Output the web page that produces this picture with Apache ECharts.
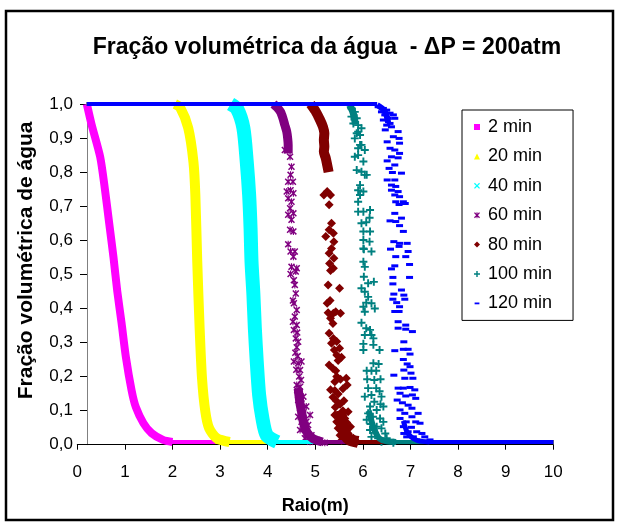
<!DOCTYPE html>
<html><head><meta charset="utf-8">
<script src="https://cdn.jsdelivr.net/npm/echarts@6/dist/echarts.min.js"></script>
<style>html,body{margin:0;padding:0;background:#fff}#c{width:621px;height:528px}</style>
</head><body><div id="c"></div>
<script>
const FONT = '"Liberation Sans", Arial, sans-serif';
const seriesNames = ['2 min','20 min','40 min','60 min','80 min','100 min','120 min'];
const seriesColors = ['#FF00FF','#FFFF00','#00FFFF','#800080','#800000','#008080','#0000FF'];
const xTickLabels = ['0','1','2','3','4','5','6','7','8','9','10'];
const yTickLabels = ['0,0','0,1','0,2','0,3','0,4','0,5','0,6','0,7','0,8','0,9','1,0'];

// plateau (y = 1) from r = 0.2 up to these radii; floor (y ~ 0) from these radii to r = 10
const plateauEnd = [null, 2.08, 3.25, 4.14, 4.9, 5.72, 6.3];
const floorStart = [1.85, 2.9, 4.05, 5.1, 5.85, 6.6, 7.35];

// dense fronts
const front2 = [[0.2,1.0],[0.3,0.94],[0.48,0.845],[0.58,0.75],[0.67,0.65],[0.76,0.55],[0.84,0.45],[0.93,0.357],[1.02,0.258],[1.14,0.16],[1.23,0.11],[1.39,0.063],[1.56,0.034],[1.8,0.014],[2.0,0.008]];
const front20 = [[2.05,1.0],[2.16,0.99],[2.33,0.93],[2.44,0.83],[2.48,0.733],[2.52,0.537],[2.57,0.342],[2.62,0.195],[2.69,0.097],[2.77,0.048],[2.93,0.019],[3.2,0.008]];
const front40 = [[3.22,1.0],[3.36,0.985],[3.49,0.929],[3.56,0.83],[3.61,0.733],[3.64,0.635],[3.66,0.537],[3.70,0.44],[3.73,0.342],[3.77,0.244],[3.82,0.146],[3.89,0.077],[3.98,0.028],[4.2,0.008]];
const front60Top = [[4.12,1.0],[4.2,0.99],[4.27,0.977],[4.32,0.958],[4.36,0.938],[4.40,0.919],[4.42,0.899],[4.43,0.88],[4.43,0.855]];
const front60Bottom = [[4.64,0.165],[4.68,0.12],[4.72,0.09],[4.76,0.06],[4.83,0.035],[4.95,0.018],[5.15,0.008]];
const front80Top = [[4.9,1.0],[5.0,0.98],[5.10,0.953],[5.16,0.933],[5.19,0.914],[5.18,0.894],[5.19,0.875],[5.18,0.86],[5.22,0.841],[5.25,0.821],[5.28,0.80]];
const front80Bottom = [[5.52,0.10],[5.55,0.075],[5.58,0.05],[5.63,0.03],[5.72,0.015],[5.9,0.008]];
const front100Top = [[5.72,0.997],[5.78,0.98],[5.82,0.96],[5.84,0.94]];
const front100Bottom = [[6.12,0.10],[6.2,0.06],[6.27,0.035],[6.35,0.018],[6.5,0.01],[6.7,0.008]];
const front120Top = [[6.3,0.997],[6.42,0.985],[6.5,0.965],[6.53,0.945]];
const front120Bottom = [[6.85,0.07],[6.92,0.04],[7.02,0.022],[7.15,0.012],[7.4,0.008]];

// scattered points
const pts60 = [[4.47,0.845],[4.36,0.865],[4.50,0.816],[4.48,0.792],[4.43,0.772],[4.53,0.772],[4.48,0.747],[4.40,0.743],[4.54,0.738],[4.43,0.723],[4.50,0.713],[4.47,0.694],[4.54,0.679],[4.43,0.675],[4.50,0.660],[4.47,0.631],[4.54,0.626],[4.43,0.588],[4.48,0.567],[4.54,0.552],[4.57,0.567],[4.50,0.522],[4.61,0.518],[4.48,0.501],[4.59,0.508],[4.55,0.483],[4.57,0.469],[4.59,0.444],[4.53,0.423],[4.55,0.415],[4.61,0.395],[4.57,0.376],[4.53,0.361],[4.61,0.351],[4.55,0.337],[4.62,0.329],[4.59,0.312],[4.64,0.302],[4.61,0.286],[4.58,0.27],[4.63,0.26],[4.55,0.244],[4.64,0.239],[4.71,0.244],[4.60,0.22],[4.68,0.219],[4.66,0.20],[4.70,0.19],[4.61,0.175],[4.68,0.170],[4.62,0.16],[4.66,0.151],[4.75,0.141],[4.64,0.131],[4.71,0.121],[4.81,0.112],[4.68,0.107],[4.89,0.087],[4.75,0.092],[4.64,0.082],[4.71,0.067],[4.81,0.067],[4.85,0.058],[4.75,0.048],[4.68,0.043],[4.81,0.033],[4.92,0.028],[4.78,0.019],[5.03,0.014],[4.89,0.009],[5.20,0.006]];
const pts80 = [[5.25,0.743],[5.18,0.733],[5.32,0.733],[5.29,0.704],[5.34,0.65],[5.29,0.631],[5.22,0.611],[5.38,0.621],[5.39,0.596],[5.34,0.576],[5.29,0.562],[5.39,0.547],[5.30,0.532],[5.38,0.518],[5.32,0.511],[5.27,0.469],[5.51,0.459],[5.31,0.423],[5.25,0.415],[5.27,0.387],[5.38,0.386],[5.43,0.390],[5.53,0.386],[5.32,0.371],[5.37,0.356],[5.29,0.327],[5.38,0.312],[5.34,0.298],[5.45,0.303],[5.51,0.283],[5.40,0.278],[5.45,0.263],[5.55,0.257],[5.48,0.247],[5.29,0.234],[5.37,0.224],[5.43,0.217],[5.45,0.200],[5.53,0.192],[5.65,0.195],[5.41,0.185],[5.32,0.161],[5.41,0.159],[5.48,0.149],[5.58,0.164],[5.67,0.175],[5.37,0.139],[5.44,0.129],[5.52,0.119],[5.42,0.110],[5.60,0.129],[5.58,0.100],[5.69,0.097],[5.41,0.087],[5.52,0.082],[5.62,0.077],[5.45,0.067],[5.55,0.063],[5.66,0.065],[5.74,0.053],[5.48,0.048],[5.58,0.043],[5.69,0.033],[5.52,0.028],[5.62,0.023],[5.80,0.019],[5.73,0.014],[5.55,0.012],[5.87,0.009]];
const pts100 = [[5.76,0.987],[5.83,0.977],[5.76,0.963],[5.87,0.958],[5.80,0.943],[5.90,0.938],[5.97,0.929],[5.87,0.914],[5.94,0.909],[5.83,0.899],[5.90,0.919],[5.94,0.880],[5.97,0.880],[6.04,0.865],[5.90,0.870],[5.83,0.845],[5.90,0.850],[6.01,0.831],[5.87,0.806],[5.97,0.801],[6.04,0.792],[6.08,0.792],[5.94,0.762],[5.90,0.747],[6.01,0.743],[5.94,0.733],[5.90,0.713],[5.90,0.684],[6.01,0.684],[6.15,0.689],[6.14,0.666],[5.97,0.650],[6.07,0.653],[6.01,0.626],[6.15,0.626],[6.01,0.601],[6.14,0.596],[6.18,0.567],[6.01,0.576],[6.02,0.574],[6.01,0.537],[6.04,0.522],[6.02,0.493],[6.11,0.474],[6.23,0.478],[5.97,0.459],[6.04,0.449],[6.11,0.434],[6.07,0.417],[6.18,0.415],[6.01,0.405],[6.25,0.400],[6.04,0.390],[5.97,0.358],[6.07,0.342],[6.15,0.337],[6.18,0.322],[6.04,0.322],[6.22,0.312],[6.01,0.296],[6.22,0.293],[6.01,0.278],[6.35,0.278],[6.22,0.239],[6.33,0.237],[6.08,0.217],[6.18,0.217],[6.28,0.217],[6.09,0.192],[6.24,0.190],[6.37,0.192],[6.11,0.166],[6.28,0.166],[6.04,0.141],[6.18,0.146],[6.35,0.157],[6.39,0.141],[6.24,0.126],[6.37,0.119],[6.15,0.112],[6.29,0.102],[6.11,0.092],[6.43,0.112],[6.21,0.082],[6.36,0.077],[6.08,0.073],[6.43,0.067],[6.16,0.061],[6.29,0.053],[6.39,0.048],[6.15,0.043],[6.25,0.035],[6.47,0.033],[6.18,0.023],[6.32,0.019],[6.50,0.019],[6.39,0.009],[6.64,0.006]];
const pts120 = [[6.32,0.992],[6.43,0.987],[6.50,0.982],[6.39,0.977],[6.57,0.973],[6.46,0.968],[6.64,0.968],[6.53,0.958],[6.43,0.953],[6.67,0.958],[6.57,0.943],[6.50,0.938],[6.60,0.933],[6.47,0.924],[6.74,0.919],[6.64,0.904],[6.76,0.899],[6.51,0.889],[6.77,0.885],[6.57,0.870],[6.67,0.865],[6.77,0.855],[6.60,0.845],[6.74,0.842],[6.51,0.833],[6.67,0.821],[6.55,0.811],[6.81,0.797],[6.62,0.799],[6.51,0.777],[6.67,0.777],[6.60,0.762],[6.69,0.758],[6.60,0.747],[6.74,0.743],[6.67,0.733],[6.77,0.728],[6.69,0.713],[6.85,0.713],[6.76,0.705],[6.89,0.708],[6.67,0.679],[6.57,0.657],[6.69,0.655],[6.81,0.665],[6.77,0.643],[6.85,0.626],[6.65,0.596],[6.77,0.591],[6.93,0.591],[6.76,0.582],[6.58,0.574],[6.95,0.567],[6.69,0.552],[6.90,0.552],[6.67,0.525],[6.98,0.529],[6.60,0.516],[6.63,0.491],[6.98,0.491],[6.63,0.472],[6.81,0.454],[6.65,0.442],[6.86,0.439],[6.63,0.427],[6.71,0.417],[6.88,0.427],[6.77,0.405],[6.67,0.391],[6.76,0.391],[6.74,0.361],[6.90,0.351],[6.74,0.342],[6.90,0.339],[7.04,0.332],[6.86,0.302],[6.67,0.276],[6.85,0.280],[6.95,0.280],[6.99,0.266],[6.85,0.250],[6.93,0.237],[6.99,0.229],[6.86,0.219],[6.65,0.204],[7.01,0.210],[6.88,0.195],[7.05,0.195],[6.74,0.166],[6.85,0.166],[6.99,0.168],[7.09,0.161],[6.78,0.151],[6.90,0.143],[7.04,0.146],[6.72,0.131],[6.83,0.123],[7.11,0.136],[6.95,0.116],[7.03,0.107],[6.78,0.102],[6.88,0.092],[7.16,0.092],[7.03,0.082],[6.78,0.077],[6.91,0.067],[7.11,0.067],[7.20,0.063],[6.85,0.053],[7.02,0.051],[6.86,0.033],[6.95,0.038],[7.13,0.038],[7.24,0.033],[6.92,0.023],[7.06,0.023],[7.30,0.023],[7.13,0.014],[7.41,0.014],[7.55,0.009]];

const plateauY = 1.0, floorY = 0.008, rStart = 0.2, rEnd = 10;

const fronts = [
  [[front2, 8]],
  [[front20, 10]],
  [[front40, 14]],
  [[front60Top, 9], [front60Bottom, 9]],
  [[front80Top, 10], [front80Bottom, 12]],
  [[front100Top, 7], [front100Bottom, 6]],
  [[front120Top, 6], [front120Bottom, 5]]
];
const scatters = [null, null, null, pts60, pts80, pts100, pts120];

const xPath = 'path://M0,1.5L1.5,0L5,3.5L8.5,0L10,1.5L6.5,5L10,8.5L8.5,10L5,6.5L1.5,10L0,8.5L3.5,5Z';
const starPath = xPath + 'M4.2,0H5.8V10H4.2Z';
const plusPath = 'path://M3.8,0H6.2V3.8H10V6.2H6.2V10H3.8V6.2H0V3.8H3.8Z';
const scatterSymbols = [null, null, null, [starPath, 7], ['diamond', 9], [plusPath, 8], ['rect', [7, 3]]];
const legendIcons = [
  'path://M0,0H10V10H0Z',
  'path://M5,0L10,10H0Z',
  xPath,
  starPath,
  'path://M5,0L10,5L5,10L0,5Z',
  plusPath,
  'path://M0,0M10,10M1,3.5H9V6.5H1Z'
];

const series = [];
seriesNames.forEach((name, i) => {
  const color = seriesColors[i];
  const base = { name, silent: true, animation: false };
  if (plateauEnd[i] !== null) {
    series.push(Object.assign({}, base, {
      type: 'line', data: [[rStart, plateauY], [plateauEnd[i], plateauY]],
      showSymbol: false, symbol: 'none',
      lineStyle: { color, width: 4 }, itemStyle: { color }
    }));
  }
  series.push(Object.assign({}, base, {
    type: 'line', data: [[floorStart[i], floorY], [rEnd, floorY]],
    showSymbol: false, symbol: 'none',
    lineStyle: { color, width: 4 }, itemStyle: { color }
  }));
  fronts[i].forEach(([pts, w]) => {
    series.push(Object.assign({}, base, {
      type: 'line', data: pts, smooth: 0.25,
      showSymbol: false, symbol: 'none',
      lineStyle: { color, width: w, cap: 'butt', join: 'round' }, itemStyle: { color }
    }));
  });
  if (scatters[i]) {
    series.push(Object.assign({}, base, {
      type: 'scatter', data: scatters[i],
      symbol: scatterSymbols[i][0], symbolSize: scatterSymbols[i][1],
      itemStyle: { color, opacity: 1 }
    }));
  }
});

const chart = echarts.init(document.getElementById('c'), null, { renderer: 'canvas' });
chart.setOption({
  animation: false,
  backgroundColor: '#fff',
  textStyle: { fontFamily: FONT },
  title: {
    text: 'Fração volumétrica da água  - ΔP = 200atm',
    left: 322, top: 31, textAlign: 'center',
    textStyle: { fontFamily: FONT, fontSize: 23, fontWeight: 'bold', color: '#000' }
  },
  grid: { left: 77.3, right: 67.7, top: 104, bottom: 83.3, containLabel: false },
  xAxis: {
    type: 'value', min: 0, max: 10, interval: 1,
    axisLine: { show: true, onZero: false, lineStyle: { color: '#000', width: 1 } },
    axisTick: { show: true, length: 5, lineStyle: { color: '#000' } },
    axisLabel: { fontSize: 17, color: '#000', fontFamily: FONT, margin: 19,
      formatter: v => xTickLabels[Math.round(v)] },
    splitLine: { show: false },
    name: 'Raio(m)', nameLocation: 'middle', nameGap: 52,
    nameTextStyle: { fontSize: 18, fontWeight: 'bold', color: '#000', fontFamily: FONT }
  },
  yAxis: {
    type: 'value', min: 0, max: 1, interval: 0.1, offset: -9.7,
    axisLine: { show: true, onZero: false, lineStyle: { color: '#808080', width: 1 } },
    axisTick: { show: true, length: 7, lineStyle: { color: '#000' } },
    axisLabel: { fontSize: 17, color: '#000', fontFamily: FONT, margin: 14,
      formatter: v => yTickLabels[Math.round(v * 10)] },
    splitLine: { show: false },
    name: 'Fração volumétrica de água', nameLocation: 'middle', nameGap: 50,
    nameTextStyle: { fontSize: 21, fontWeight: 'bold', color: '#000', fontFamily: FONT, padding: [0, 0, 0, 28] }
  },
  legend: {
    orient: 'vertical', left: 462, top: 110,
    padding: [8, 21, 8, 12],
    itemWidth: 12, itemHeight: 6, itemGap: 11.4,
    backgroundColor: '#fff', borderColor: '#000', borderWidth: 1,
    selectedMode: false,
    itemStyle: { borderWidth: 0 },
    textStyle: { fontSize: 18, color: '#000', fontFamily: FONT },
    data: seriesNames.map((n, i) => ({ name: n, icon: legendIcons[i], itemStyle: { color: seriesColors[i], borderWidth: 0 } }))
  },
  graphic: [{
    type: 'rect', silent: true, z: 100,
    shape: { x: 6, y: 11, width: 607, height: 509 },
    style: { fill: 'none', stroke: '#000', lineWidth: 2.5 }
  }],
  series
});
</script>
</body></html>
